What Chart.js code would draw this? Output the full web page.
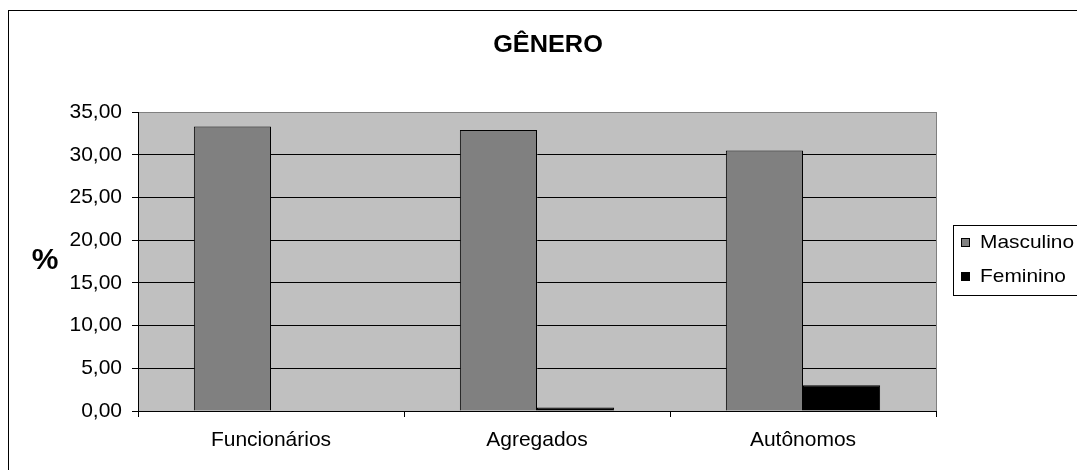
<!DOCTYPE html>
<html>
<head>
<meta charset="utf-8">
<script src="https://cdn.jsdelivr.net/npm/chart.js@4"></script>
<style>
    body { margin: 0; background: #fff; }
</style>
</head>
<body>
<canvas id="generoChart" width="1077" height="470"></canvas>
<script>
    var categorias = ['Funcionários', 'Agregados', 'Autônomos'];
    var masculino = [33.3, 32.9, 30.5];
    var feminino = [0, 0.4, 3.0];
    var tituloGrafico = 'GÊNERO';
    var tituloEixoY = '%';

    // formato brasileiro: 35,00
    function formatarValor(v) {
        return v.toFixed(2).replace('.', ',');
    }

    // fundo cinza da área do gráfico + moldura externa
    var fundoPlugin = {
        id: 'fundo',
        beforeDraw: function(chart) {
            var ctx = chart.ctx, a = chart.chartArea;
            ctx.save();
            ctx.fillStyle = '#C0C0C0';
            ctx.fillRect(a.left, a.top, a.right - a.left, a.bottom - a.top);
            ctx.strokeStyle = '#808080';
            ctx.lineWidth = 1;
            ctx.strokeRect(a.left + 0.5, a.top + 0.5, a.right - a.left, a.bottom - a.top);
            ctx.strokeStyle = '#000';
            ctx.strokeRect(8.5, 10.5, 1100, 500);
            ctx.restore();
        }
    };

    // título, rótulo "%" e legenda com caixa
    var textosPlugin = {
        id: 'textos',
        afterDraw: function(chart) {
            var ctx = chart.ctx;
            ctx.save();
            ctx.fillStyle = '#000';

            ctx.font = 'bold 23px "Liberation Sans", Arial, sans-serif';
            ctx.textAlign = 'center';
            ctx.textBaseline = 'alphabetic';
            ctx.save();
            ctx.translate(548, 52);
            ctx.scale(1.1, 1);
            ctx.fillText(tituloGrafico, 0, 0);
            ctx.restore();

            ctx.font = 'bold 30px "Liberation Sans", Arial, sans-serif';
            ctx.textBaseline = 'middle';
            ctx.fillText(tituloEixoY, 45, 261);

            // legenda
            ctx.strokeStyle = '#000';
            ctx.lineWidth = 1;
            ctx.fillStyle = '#fff';
            ctx.fillRect(953.5, 225.5, 200, 70);
            ctx.strokeRect(953.5, 225.5, 200, 70);
            var linhas = [243, 277];
            chart.data.datasets.forEach(function(ds, i) {
                var y = linhas[i];
                ctx.fillStyle = ds.backgroundColor;
                ctx.fillRect(961.5, y - 4.5, 8, 8);
                ctx.strokeRect(961.5, y - 4.5, 8, 8);
                ctx.fillStyle = '#000';
                ctx.font = '19px "Liberation Sans", Arial, sans-serif';
                ctx.textAlign = 'left';
                ctx.textBaseline = 'alphabetic';
                ctx.save();
                ctx.translate(980, y + 5);
                ctx.scale(1.1, 1);
                ctx.fillText(ds.label, 0, 0);
                ctx.restore();
            });
            ctx.restore();
        }
    };

    var chart = new Chart('generoChart', {
        type: 'bar',
        data: {
            labels: categorias,
            datasets: [{
                label: 'Masculino',
                data: masculino,
                backgroundColor: '#808080',
                borderColor: '#000',
                borderWidth: 1
            }, {
                label: 'Feminino',
                data: feminino,
                backgroundColor: '#000000',
                borderColor: '#000',
                borderWidth: 1
            }]
        },
        options: {
            responsive: false,
            animation: false,
            devicePixelRatio: 1,
            categoryPercentage: 0.58,
            barPercentage: 1,
            layout: { padding: { left: 0, top: 112, right: 141, bottom: 0 } },
            plugins: {
                legend: { display: false },
                title: { display: false },
                tooltip: { enabled: false }
            },
            scales: {
                x: {
                    grid: {
                        offset: true,
                        drawOnChartArea: false,
                        drawTicks: true,
                        tickLength: 6,
                        color: '#000',
                        tickColor: '#000'
                    },
                    border: { display: true, color: '#000', width: 1 },
                    ticks: {
                        color: '#000',
                        padding: 11,
                        font: { family: '"Liberation Sans", Arial, sans-serif', size: 21 }
                    },
                    afterFit: function(scale) { scale.height = 59; }
                },
                y: {
                    min: 0,
                    max: 35,
                    grid: {
                        color: function(c) { return c.tick && c.tick.value === 35 ? '#808080' : '#000'; },
                        tickColor: '#000',
                        tickLength: 6,
                        lineWidth: 1
                    },
                    border: { display: true, color: '#000', width: 1 },
                    ticks: {
                        stepSize: 5,
                        color: '#000',
                        padding: 10,
                        font: { family: '"Liberation Sans", Arial, sans-serif', size: 21 },
                        callback: function(v) { return formatarValor(v); }
                    },
                    afterFit: function(scale) { scale.width = 138; }
                }
            }
        },
        plugins: [fundoPlugin, textosPlugin]
    });
</script>
</body>
</html>
